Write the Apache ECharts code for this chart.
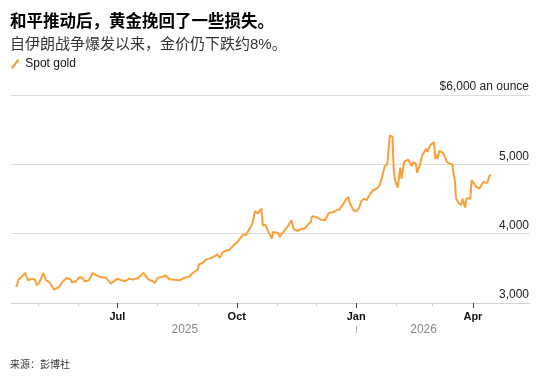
<!DOCTYPE html>
<html>
<head>
<meta charset="utf-8">
<script src="https://cdn.jsdelivr.net/npm/echarts@6/dist/echarts.min.js"></script>
<style>
  html,body{margin:0;padding:0;background:#fff;}
  #chart{width:554px;height:376px;}
</style>
</head>
<body>
<div id="chart"></div>
<script>
// spot gold
const dates = [
  '2025-04-14','2025-04-16','2025-04-18','2025-04-21','2025-04-23','2025-04-25','2025-04-28','2025-04-30',
  '2025-05-02','2025-05-05','2025-05-07','2025-05-10','2025-05-13','2025-05-17','2025-05-20','2025-05-23',
  '2025-05-26','2025-05-27','2025-05-30','2025-06-02','2025-06-04','2025-06-06','2025-06-09','2025-06-12',
  '2025-06-16','2025-06-20','2025-06-22','2025-06-26','2025-07-01','2025-07-04','2025-07-07','2025-07-10',
  '2025-07-13','2025-07-17','2025-07-21','2025-07-25','2025-07-28','2025-07-30','2025-08-01','2025-08-05',
  '2025-08-07','2025-08-10','2025-08-14','2025-08-18','2025-08-22','2025-08-25','2025-08-28','2025-09-01',
  '2025-09-02','2025-09-05','2025-09-07','2025-09-10','2025-09-14','2025-09-16','2025-09-18','2025-09-20',
  '2025-09-23','2025-09-25','2025-09-28','2025-10-01','2025-10-03','2025-10-06','2025-10-08','2025-10-11',
  '2025-10-13','2025-10-15','2025-10-17','2025-10-20','2025-10-21','2025-10-23','2025-10-26','2025-10-28',
  '2025-10-29','2025-11-02','2025-11-03','2025-11-05','2025-11-09','2025-11-12','2025-11-14','2025-11-17',
  '2025-11-20','2025-11-22','2025-11-25','2025-11-27','2025-11-28','2025-12-01','2025-12-05','2025-12-08',
  '2025-12-11','2025-12-14','2025-12-17','2025-12-19','2025-12-22','2025-12-24','2025-12-26','2025-12-27',
  '2025-12-30','2026-01-01','2026-01-03','2026-01-05','2026-01-07','2026-01-09','2026-01-12','2026-01-14',
  '2026-01-17','2026-01-19','2026-01-21','2026-01-23','2026-01-25','2026-01-27','2026-01-29','2026-01-30',
  '2026-01-31','2026-02-02','2026-02-04','2026-02-05','2026-02-07','2026-02-08','2026-02-10','2026-02-11',
  '2026-02-13','2026-02-14','2026-02-16','2026-02-17','2026-02-19','2026-02-21','2026-02-24','2026-02-25',
  '2026-02-27','2026-03-02','2026-03-03','2026-03-04','2026-03-05','2026-03-06','2026-03-09','2026-03-10',
  '2026-03-12','2026-03-14','2026-03-16','2026-03-18','2026-03-19','2026-03-21','2026-03-23','2026-03-24',
  '2026-03-26','2026-03-27','2026-03-30','2026-03-31','2026-04-02','2026-04-03','2026-04-06','2026-04-09',
  '2026-04-12','2026-04-13','2026-04-14','2026-04-15'
]
const prices = [
  3231,3342,3376,3433,3328,3342,3347,3256,
  3303,3433,3328,3294,3193,3231,3313,3361,
  3342,3294,3313,3376,3361,3313,3328,3433,
  3385,3366,3366,3280,3352,3328,3313,3352,
  3337,3361,3433,3337,3318,3290,3366,3376,
  3400,3342,3337,3328,3366,3376,3433,3482,
  3559,3578,3626,3640,3674,3703,3650,3727,
  3760,3760,3823,3871,3919,3991,3977,4073,
  4145,4323,4290,4361,4116,4131,4001,3929,
  4025,4011,3952,4000,4097,4193,4063,4039,
  4073,4068,4135,4169,4251,4241,4202,4193,
  4299,4308,4337,4347,4424,4491,4529,4443,
  4337,4323,4361,4467,4506,4482,4578,4626,
  4650,4693,4818,4972,5001,5419,5395,4914,
  4770,4664,4953,4794,5034,5058,5068,5092,
  4972,5034,5010,4876,4986,5130,5226,5178,
  5274,5323,5082,5140,5082,5193,5164,5178,
  5034,5010,5001,4770,4506,4443,4410,4506,
  4376,4506,4506,4770,4722,4684,4650,4746,
  4731,4746,4842,4842
]
const monthTicks = ['2025-05-01','2025-06-01','2025-07-01','2025-08-01','2025-09-01','2025-10-01','2025-11-01',
  '2025-12-01','2026-01-01','2026-02-01','2026-03-01','2026-04-01']
const quarterTicks = ['2025-07-01','2025-10-01','2026-01-01','2026-04-01']
const yearBreaks = ['2026-01-01']
const yearLabelDates = ['2025-08-22','2026-02-22']
const yTicks = [3000,4000,5000,6000]

const monthNames = ['Jan','Feb','Mar','Apr','May','Jun','Jul','Aug','Sep','Oct','Nov','Dec']
const font = '"Liberation Sans", Arial, "Noto Sans CJK SC", sans-serif'
const ts = (d)=>Date.parse(d)
const xMin = ts('2025-04-10')
const xMax = ts('2026-05-15')

const opt = {
  animation:false,
  textStyle:{fontFamily:font},
  title:[
    {
      left:10,
      top:12,
      text:'和平推动后，黄金挽回了一些损失。',
      subtext:'自伊朗战争爆发以来，金价仍下跌约8%。',
      itemGap:3,
      padding:0,
      textStyle:{fontSize:16.5,fontWeight:'bold',color:'#000',lineHeight:20,fontFamily:font},
      subtextStyle:{fontSize:15,color:'#333',lineHeight:20,fontFamily:font}
    },
    {
      left:10,
      top:358,
      padding:0,
      text:'来源：彭博社',
      textStyle:{fontSize:10,fontWeight:'normal',color:'#333',lineHeight:14,fontFamily:font}
    }
  ],
  legend:{
    left:11,
    top:58,
    padding:0,
    itemWidth:10,
    itemHeight:10,
    icon:'path://M0,8.6 L6.6,0 L8.4,1.4 L1.8,10 Z',
    textStyle:{fontSize:12,color:'#111',fontFamily:font},
    data:['Spot gold']
  },
  grid:{left:11,right:24,top:95,bottom:73},
  xAxis:[
    {
      type:'value',
      min:xMin,
      max:xMax,
      axisLine:{lineStyle:{color:'#d4d4d4',width:1}},
      axisTick:{show:true,customValues:monthTicks.map(ts),length:3,lineStyle:{color:'#cfcfcf'}},
      axisLabel:{show:false},
      splitLine:{show:false}
    },
    {
      type:'value',
      min:xMin,
      max:xMax,
      position:'bottom',
      axisLine:{show:false},
      axisTick:{show:true,customValues:quarterTicks.map(ts),length:5,lineStyle:{color:'#444'}},
      axisLabel:{
        customValues:quarterTicks.map(ts),
        margin:8,
        fontSize:11,
        fontWeight:'bold',
        color:'#111',
        fontFamily:font,
        formatter:(v)=>monthNames[new Date(v).getUTCMonth()]
      },
      splitLine:{show:false}
    },
    {
      type:'value',
      min:xMin,
      max:xMax,
      position:'bottom',
      offset:23,
      axisLine:{show:false},
      axisTick:{show:true,customValues:yearBreaks.map(ts),length:7,lineStyle:{color:'#aaa'}},
      axisLabel:{
        customValues:yearLabelDates.map(ts),
        margin:-2,
        fontSize:12,
        color:'#888',
        fontFamily:font,
        formatter:(v)=>String(new Date(v).getUTCFullYear())
      },
      splitLine:{show:false}
    }
  ],
  yAxis:{
    type:'value',
    position:'right',
    min:yTicks[0],
    max:yTicks[yTicks.length-1],
    interval:1000,
    axisLine:{show:false},
    axisTick:{show:false},
    splitLine:{lineStyle:{color:'#dcdcdc',width:1}},
    axisLabel:{
      inside:true,
      margin:1,
      verticalAlign:'bottom',
      padding:[0,0,2,0],
      fontSize:12,
      color:'#222',
      fontFamily:font,
      formatter:(v)=>{
        const s = v.toLocaleString('en-US')
        return v===6000 ? '$'+s+' an ounce' : s
      }
    }
  },
  series:[
    {
      name:'Spot gold',
      type:'line',
      xAxisIndex:0,
      showSymbol:false,
      color:'#f9a03a',
      lineStyle:{width:2,color:'#f9a03a'},
      data:dates.map((d,i)=>[ts(d),prices[i]])
    }
  ]
}

const chart = echarts.init(document.getElementById('chart'))
chart.setOption(opt)
</script>
</body>
</html>
